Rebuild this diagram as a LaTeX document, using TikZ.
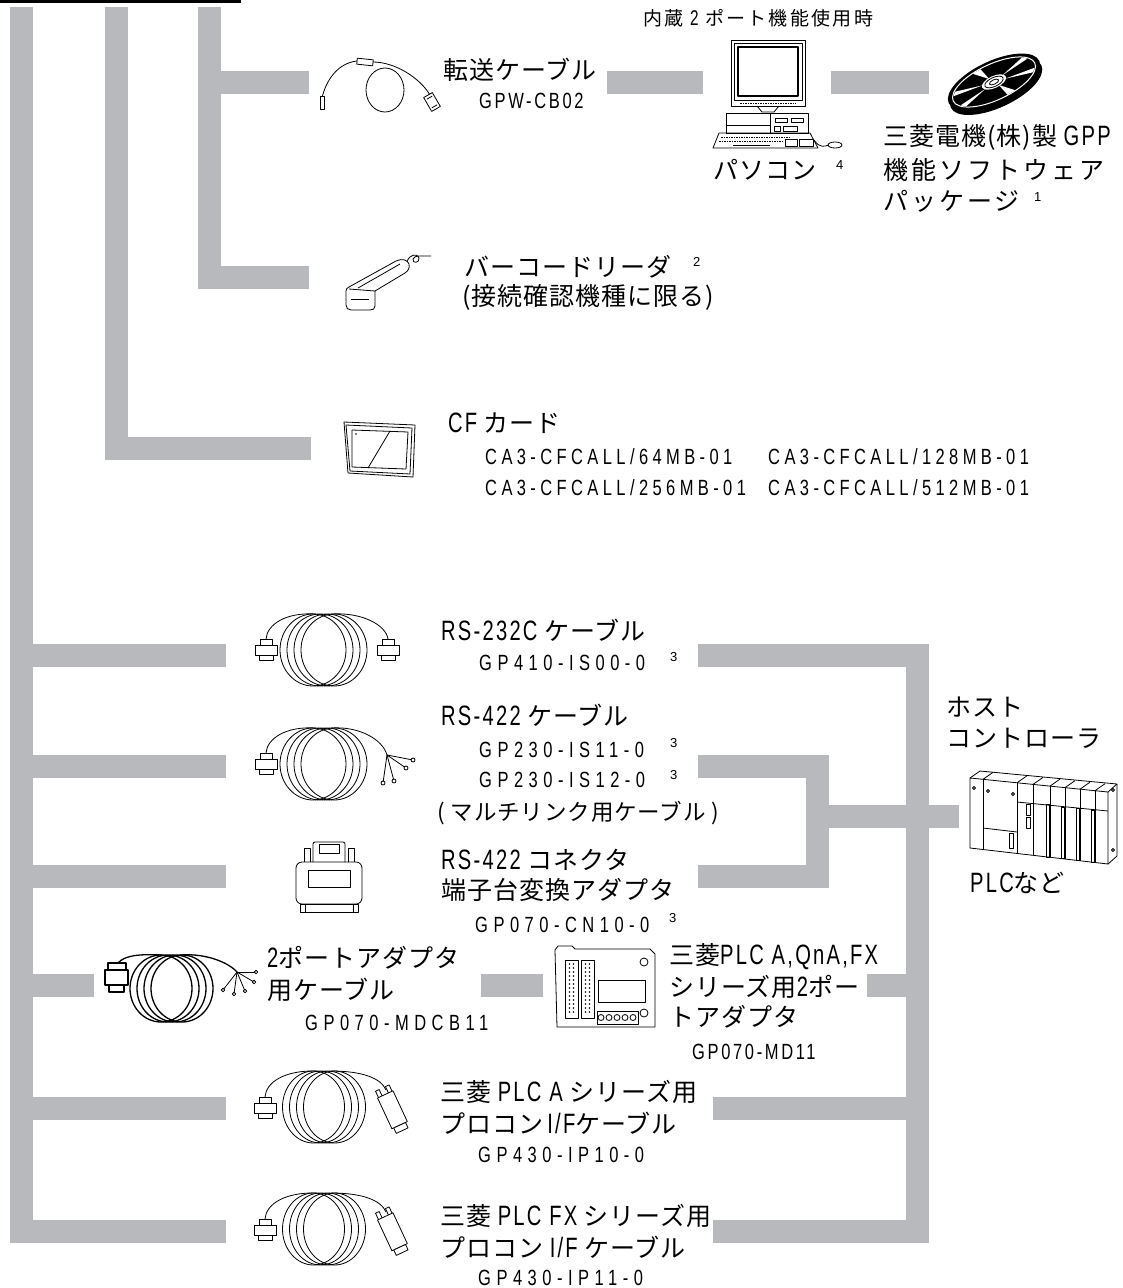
\documentclass[tikz,border=0pt]{standalone}
\usepackage{fontspec}
\newfontfamily\jpA[LetterSpace=4]{Noto Sans CJK JP}
\newfontfamily\jpB[LetterSpace=12]{Noto Sans CJK JP}
\newfontfamily\latA[FakeStretch=0.72,LetterSpace=8,Scale=1.12]{Liberation Sans}
\newfontfamily\numA[FakeStretch=0.75,LetterSpace=25]{Liberation Sans}
\newfontfamily\numB[FakeStretch=0.75,LetterSpace=12]{Liberation Sans}
\newfontfamily\numC[FakeStretch=0.75,LetterSpace=20]{Liberation Sans}
\newfontfamily\supf{Liberation Sans}
\newcommand\setfs[1]{\fontsize{#1}{#1}\selectfont}
\newcommand\mylat[1]{{\latA #1}}
\definecolor{busgray}{RGB}{184,185,189}
\tikzset{
 bus/.style={draw=busgray, line width=23pt, line cap=butt, line join=miter},
 ico/.style={draw=black, line width=0.8pt, line join=round},
 icot/.style={draw=black, line width=1.3pt, line join=round},
 lab/.style={anchor=west, inner sep=0pt, font=\jpA\setfs{25}},
 labw/.style={anchor=west, inner sep=0pt, font=\jpB\setfs{25}},
 labs/.style={anchor=west, inner sep=0pt, font=\jpA\setfs{22.5}},
 hdr/.style={anchor=west, inner sep=0pt, font=\jpB\setfs{19}},
 mdl/.style={anchor=west, inner sep=0pt, font=\numA\setfs{22}},
 mdlB/.style={anchor=west, inner sep=0pt, font=\numB\setfs{22}},
 mdlC/.style={anchor=west, inner sep=0pt, font=\numC\setfs{22}},
 ftn/.style={anchor=west, inner sep=0pt, font=\supf\setfs{13}},
}
\newcommand\mycoil[5]{% cx cy rx ry style
 \foreach \oo in {-10.5,-3.5,3.5,10.5}{\draw[#5] ({#1+\oo},#2) ellipse [x radius=#3pt, y radius=#4pt];}}
\newcommand\mydb[2]{%
 \draw[ico,fill=white] ({#1-6},{#2-13}) rectangle ({#1+6},{#2-7});
 \draw[ico,fill=white] ({#1-11},{#2-7}) rectangle ({#1+11},{#2+3});
 \draw[ico,fill=white] ({#1-7},{#2+3}) rectangle ({#1+7},{#2+8});}
\begin{document}
\begin{tikzpicture}[x=1pt,y=-1pt]
\fill[white] (0,0) rectangle (1123,1288);
\useasboundingbox (0,0) rectangle (1123,1288);
\fill[black] (0,0) rectangle (241,3);
% ---------- bus coordinates
\coordinate (Atop) at (21.5,7);
\coordinate (fxL) at (226,1231.5);
\coordinate (Btop) at (116,7);
\coordinate (cfL) at (311,448.5);
\coordinate (Ctop) at (209,7);
\coordinate (bcL) at (309,277.5);
\coordinate (Ctr) at (209,82.5);
\coordinate (trL) at (309,82.5);
\coordinate (tp1) at (607,82.5);
\coordinate (tp2) at (703,82.5);
\coordinate (cd1) at (831,82.5);
\coordinate (cd2) at (929,82.5);
\coordinate (rsA) at (21.5,655.5);
\coordinate (rsL) at (226,655.5);
\coordinate (r4A) at (21.5,766.5);
\coordinate (r4L) at (226,766.5);
\coordinate (cnA) at (21.5,876);
\coordinate (cnL) at (226,876);
\coordinate (tpA) at (21.5,985.5);
\coordinate (tpL) at (94,985.5);
\coordinate (paA) at (21.5,1108.5);
\coordinate (paL) at (226,1108.5);
\coordinate (rsR) at (698,655.5);
\coordinate (Rbot) at (917.5,1231.5);
\coordinate (fxR) at (713,1231.5);
\coordinate (r4R) at (698,766.5);
\coordinate (Mj) at (817.5,876);
\coordinate (cnR) at (698,876);
\coordinate (Mm) at (817.5,816.5);
\coordinate (plcIn) at (959,816.5);
\coordinate (tpR1) at (867,985.5);
\coordinate (tpR2) at (917.5,985.5);
\coordinate (paR1) at (713,1108.5);
\coordinate (paR2) at (917.5,1108.5);
\coordinate (tpM1) at (481,985.5);
\coordinate (tpM2) at (543,985.5);
% ---------- bus bars
\draw[bus] (Atop) |- (fxL);
\draw[bus] (Btop) |- (cfL);
\draw[bus] (Ctop) |- (bcL);
\draw[bus] (Ctr) -- (trL);
\draw[bus] (tp1) -- (tp2);
\draw[bus] (cd1) -- (cd2);
\draw[bus] (rsA) -- (rsL);
\draw[bus] (r4A) -- (r4L);
\draw[bus] (cnA) -- (cnL);
\draw[bus] (tpA) -- (tpL);
\draw[bus] (paA) -- (paL);
\draw[bus] (rsR) -| (Rbot) -- (fxR);
\draw[bus] (r4R) -| (Mj) -- (cnR);
\draw[bus] (Mm) -- (plcIn);
\draw[bus] (tpR1) -- (tpR2);
\draw[bus] (paR1) -- (paR2);
\draw[bus] (tpM1) -- (tpM2);
% ---------- transfer cable icon
\draw[ico] (322,98) .. controls (326,80) and (338,63) .. (357,61);
\draw[ico,fill=white,rotate around={-6:(365,62)}] (357,59) rectangle (373,65);
\draw[ico] (373,62) .. controls (395,62) and (420,78) .. (430,95);
\draw[ico] (385,90) ellipse [x radius=19pt, y radius=22pt];
\draw[ico,fill=white] (320,96) rectangle (324,109);
\draw[ico,fill=white,rotate around={30:(432,102)}] (427,94) rectangle (437,110);
\draw[ico,rotate around={30:(432,102)}] (429,97) -- (435,97) (429,107) -- (435,107);
% ---------- PC icon
\draw[ico] (731,40) rectangle (805,106);
\draw[ico] (734,43) rectangle (802,100);
\draw[ico,line width=1.2pt] (738,47) rectangle (798,96);
\draw[ico,dash pattern=on 1.5pt off 1pt] (740,103) -- (796,103);
\draw[ico] (757,106) -- (762,112) -- (774,112) -- (779,106);
\draw[ico] (726,113) rectangle (808,133);
\draw[ico] (726,125) -- (770,125);
\draw[ico] (770,113) -- (770,133);
\draw[ico] (775,118) rectangle (787,122);
\draw[ico] (791,118) rectangle (803,122);
\draw[ico] (774,126) rectangle (780,131);
\draw[ico] (783,126) rectangle (797,131);
\draw[ico] (719,133) -- (810,133) -- (818,148) -- (713,148) -- cycle;
\draw[ico,dash pattern=on 1.5pt off 1pt] (721,137) -- (790,137);
\draw[ico,dash pattern=on 1.5pt off 1pt] (719,141) -- (782,141);
\draw[ico] (785,139) rectangle (797,146);
\draw[ico] (799,139) rectangle (813,146);
\draw[ico] (733,145) -- (770,145);
\draw[ico] (814,140) .. controls (820,149) and (825,146) .. (829,145);
\draw[ico] (835,145) ellipse [x radius=7pt, y radius=3pt];
% ---------- CD icon
\begin{scope}[shift={(994,82)}, rotate=25]
 \fill[black] (0,5) ellipse [x radius=50pt, y radius=21pt];
 \fill[black] (0,0) ellipse [x radius=50pt, y radius=21pt];
 \draw[white,line width=1pt] (0,0) ellipse [x radius=45pt, y radius=18pt];
 \foreach \a in {20,75,150,200,255,330}{
  \fill[white] ({12*cos(\a)},{5*sin(\a)}) -- ({44*cos(\a-6)},{17.5*sin(\a-6)}) -- ({44*cos(\a+6)},{17.5*sin(\a+6)}) -- cycle;}
 \fill[white] (0,0) ellipse [x radius=13pt, y radius=6pt];
 \draw[black,line width=0.8pt] (0,0) ellipse [x radius=10pt, y radius=4.5pt];
 \draw[black,line width=0.8pt] (0,0) ellipse [x radius=5pt, y radius=2.2pt];
\end{scope}
% ---------- barcode reader
\draw[ico,fill=white] (349,287) -- (396,261) .. controls (402,258) and (408,260) .. (409,264) .. controls (410,268) and (408,271) .. (405,273) -- (375,291) -- (375,306) .. controls (375,309) and (373,310) .. (370,310) -- (351,310) .. controls (348,310) and (346,308) .. (346,305) -- (346,291) .. controls (346,289) and (347,288) .. (349,287) -- cycle;
\draw[ico] (349,289) -- (375,291);
\draw[ico] (358,288) -- (400,264);
\draw[ico] (351,299) -- (369,299);
\draw[ico] (407,262) .. controls (409,254) and (418,253) .. (419,258) .. controls (420,263) and (412,264) .. (413,259) .. controls (414,255) and (423,256) .. (431,256);
% ---------- CF card
\draw[ico] (344,422) -- (415,425) -- (413,477) -- (348,473) -- cycle;
\draw[ico] (346,425) -- (412,428) -- (410,474) -- (350,471) -- cycle;
\draw[ico] (352,430) -- (408,432) -- (406,469) -- (352,467) -- cycle;
\draw[ico] (390,431) -- (368,468);
\fill (356,434) circle (0.8pt);
% ---------- RS-232C cable
\mycoil{323.5}{650}{33}{36}{ico}
\draw[ico] (316,614) .. controls (285,612) and (267,625) .. (266,639);
\draw[ico] (331,614) .. controls (362,612) and (386,625) .. (388,639);
\mydb{266}{652}
\mydb{388}{652}
% ---------- RS-422 cable
\mycoil{323.5}{764}{33}{36}{ico}
\draw[ico] (316,728) .. controls (285,726) and (267,739) .. (266,753);
\mydb{266}{766}
\draw[ico] (331,728) .. controls (360,726) and (383,740) .. (387,755);
\foreach \px/\py in {413/760,406/768,394/781,383/783}{
 \draw[ico] (387,755) -- (\px,\py);
 \draw[ico,fill=white] (\px,\py) circle (2pt);}
% ---------- RS-422 connector adapter
\draw[ico,rounded corners=2pt] (313,862) -- (313,842) -- (345,842) -- (345,862);
\draw[ico] (319,844) rectangle (339,853);
\draw[ico] (304,862) -- (304,848) -- (310,848) -- (310,862);
\draw[ico] (348,862) -- (348,848) -- (354,848) -- (354,862);
\draw[ico,rounded corners=6pt] (296,904) rectangle (362,862);
\draw[ico] (308,870) rectangle (350,887);
\draw[ico] (300,904) rectangle (358,912);
\draw[ico] (305,904) -- (305,912) (353,904) -- (353,912);
% ---------- 2-port cable
\mycoil{171.5}{988.5}{31}{33.5}{icot}
\draw[icot,fill=white] (108,963) rectangle (126,970);
\draw[icot,fill=white] (105,970) rectangle (128,985);
\draw[icot,fill=white] (109,985) rectangle (124,992);
\draw[icot] (118,963) .. controls (125,955) and (140,954) .. (162,955);
\draw[icot] (180,955) .. controls (205,953) and (228,962) .. (237,972);
\foreach \px/\py in {256/972,254/982,245/991,234/994,223/990}{
 \draw[ico] (237,972) -- (\px,\py);
 \draw[ico,fill=white] (\px,\py) circle (1.8pt);}
% ---------- 2-port adapter
\draw[ico] (555,950) -- (558,946) -- (572,946) -- (575,949) -- (650,949) -- (655,954) -- (655,1027) -- (557,1027) -- cycle;
\draw[ico] (565,960) rectangle (578,1018);
\draw[ico] (581,960) rectangle (594,1018);
\foreach \yy in {964,968,...,1014}{
 \fill (569.5,\yy) circle (0.8pt); \fill (573.5,\yy) circle (0.8pt);
 \fill (585.5,\yy) circle (0.8pt); \fill (589.5,\yy) circle (0.8pt);}
\draw[ico] (598,980) rectangle (645,1002);
\draw[ico] (597,1011) rectangle (638,1024);
\foreach \xx in {601,609,617,625,633}{\draw[ico] (\xx,1017.5) circle (3pt);}
\draw[ico] (644,962) circle (4pt);
\draw[ico] (644,1013) circle (4pt);
% ---------- PLC rack
\draw[ico] (970,778) -- (1108,792) -- (1108,864) -- (970,848) -- cycle;
\draw[ico] (970,778) -- (980,771) -- (1117,784) -- (1108,792);
\draw[ico] (1117,784) -- (1117,856) -- (1108,864);
\foreach \x in {983,1017,1033,1050,1065,1080,1095}{
 \draw[ico] (\x,{778+(\x-970)*0.1014}) -- (\x,{848+(\x-970)*0.116});
 \draw[ico] (\x,{778+(\x-970)*0.1014}) -- ++(10,-7);}
\draw[ico] (1017,802) -- (1108,811);
\draw[ico] (983,828) -- (1017,832);
\draw[ico] (1009,833) rectangle (1013,848);
\draw[ico] (1026,804) rectangle (1030,815);
\draw[ico] (1026,817) rectangle (1030,828);
\foreach \x/\t/\b in {1046/804/857,1061/807/858,1076/808/860,1091/810/862}{
 \draw[ico] (\x,\t) rectangle ({\x+3},\b);}
\foreach \cx/\cy in {974/788,988/791,1013/794,1113/790,1113/850}{
 \draw[ico] (\cx,\cy) circle (1.5pt);}
% ---------- PLC A and FX cables
\foreach \dy in {0,122}{
 \begin{scope}[shift={(0,\dy)}]
 \mycoil{324}{1107}{31}{36}{ico}
 \draw[ico] (317,1071) .. controls (285,1070) and (266,1082) .. (265,1097);
 \mydb{265}{1110}
 \draw[ico] (331,1071) .. controls (362,1071) and (381,1078) .. (386,1090);
 \begin{scope}[rotate around={25:(392,1110)}]
  \draw[ico,fill=white] (384,1093) rectangle (401,1127);
  \draw[ico,fill=white] (386,1127) rectangle (399,1133);
  \draw[ico] (385,1093) -- (385,1086) -- (389,1086) -- (389,1093);
  \draw[ico] (396,1093) -- (396,1086) -- (400,1086) -- (400,1093);
 \end{scope}
 \end{scope}}
% ---------- texts
\node[hdr] (hdr) at (643,18) {内蔵 \mylat{2} ポート機能使用時};
\node[lab] (trn) at (443,70) {転送ケーブル};
\node[mdlB] (trnm) at (479,101) {GPW-CB02};
\node[lab] (pc) at (713,170) {パソコン};
\node[ftn] (pcn) at (836,165) {4};
\node[lab] (gpp1) at (883,137) {三菱電機(株)製 \mylat{GPP}};
\node[labw] (gpp2) at (883,170) {機能ソフトウェア};
\node[labw] (gpp3) at (883,201) {パッケージ};
\node[ftn] (gppn) at (1034,197) {1};
\node[lab] (bc1) at (464,267) {バーコードリーダ};
\node[ftn] (bcn) at (693,262) {2};
\node[lab] (bc2) at (462,297) {(接続確認機種に限る)};
\node[lab] (cf) at (448,423) {\mylat{CF} カード};
\node[mdlC] (cf1) at (485,457) {CA3-CFCALL/64MB-01};
\node[mdlC] (cf2) at (768,457) {CA3-CFCALL/128MB-01};
\node[mdlC] (cf3) at (485,488) {CA3-CFCALL/256MB-01};
\node[mdlC] (cf4) at (768,488) {CA3-CFCALL/512MB-01};
\node[lab] (rs1) at (441,630) {\mylat{RS-232C} ケーブル};
\node[mdl] (rs1m) at (479,663) {GP410-IS00-0};
\node[ftn] (rs1n) at (670,657) {3};
\node[lab] (r42) at (441,715) {\mylat{RS-422} ケーブル};
\node[mdl] (r42a) at (479,750) {GP230-IS11-0};
\node[ftn] (r42an) at (670,743) {3};
\node[mdl] (r42b) at (479,780) {GP230-IS12-0};
\node[ftn] (r42bn) at (670,775) {3};
\node[labs] (r42c) at (437,813) {( マルチリンク用ケーブル )};
\node[lab] (cn1) at (441,860) {\mylat{RS-422} コネクタ};
\node[lab] (cn2) at (441,890) {端子台変換アダプタ};
\node[mdl] (cnm) at (475,925) {GP070-CN10-0};
\node[ftn] (cnn) at (669,918) {3};
\node[lab] (tc1) at (267,958) {\mylat{2}ポートアダプタ};
\node[lab] (tc2) at (267,990) {用ケーブル};
\node[mdl] (tcm) at (305,1023) {GP070-MDCB11};
\node[lab] (ta1) at (669,957) {三菱\mylat{PLC A,QnA,FX}};
\node[lab] (ta2) at (669,987) {シリーズ用\mylat{2}ポー};
\node[lab] (ta3) at (669,1017) {トアダプタ};
\node[mdlB] (tam) at (692,1052) {GP070-MD11};
\node[lab] (hc1) at (946,707) {ホスト};
\node[lab] (hc2) at (946,738) {コントローラ};
\node[lab] (hc3) at (970,883) {\mylat{PLC}など};
\node[lab] (pa1) at (440,1092) {三菱 \mylat{PLC A} シリーズ用};
\node[lab] (pa2) at (440,1123) {プロコン\,\mylat{I/F}ケーブル};
\node[mdl] (pam) at (478,1155) {GP430-IP10-0};
\node[lab] (fx1) at (440,1216) {三菱 \mylat{PLC FX} シリーズ用};
\node[lab] (fx2) at (440,1247) {プロコン \mylat{I/F} ケーブル};
\node[mdl] (fxm) at (478,1278) {GP430-IP11-0};
\end{tikzpicture}
\end{document}
